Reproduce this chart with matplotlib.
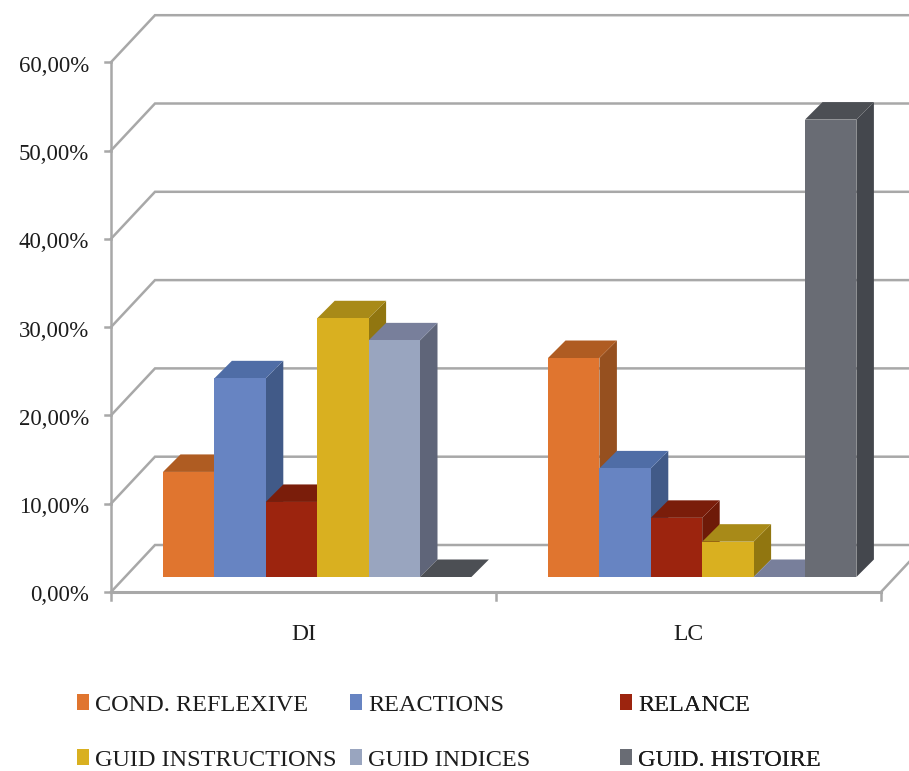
import matplotlib
matplotlib.use("Agg")
import matplotlib.pyplot as plt
from matplotlib.patches import Polygon, Patch

categories = ["DI", "LC"]
series = ["COND. REFLEXIVE", "REACTIONS", "RELANCE",
          "GUID INSTRUCTIONS", "GUID INDICES", "GUID. HISTOIRE"]
di_values = [11.9, 22.5, 8.5, 29.3, 26.8, 0.0]
lc_values = [24.8, 12.3, 6.7, 4.0, 0.0, 51.8]
y_ticks = [0, 10, 20, 30, 40, 50, 60]
y_labels = ["0,00%", "10,00%", "20,00%", "30,00%", "40,00%", "50,00%", "60,00%"]

front = ["#E0752F", "#6784C2", "#9C240E", "#D9B020", "#99A5BF", "#696C74"]
top = ["#AF5C22", "#4F6DA6", "#7A1D0A", "#A88A18", "#787F9B", "#4C4F54"]
side = ["#96501F", "#415A88", "#6E1A08", "#917610", "#5F6579", "#44474D"]

W, H = 909, 771
px_x = 385.0          # pixels per category
px_y = 8.83           # pixels per percent
x0, y0 = 111, 592     # front corner of the floor
GRID = "#a8a8a8"
TXT = "#1c1c1c"
FONT = "Liberation Serif"

fig = plt.figure(figsize=(W / 100, H / 100), dpi=100)
ax = fig.add_axes([0, 0, 1, 1])
ax.set_xlim(-x0 / px_x, (W - x0) / px_x)
ax.set_ylim(-(H - y0) / px_y, y0 / px_y)
ax.axis("off")

# depth of the box and of the bars, in data units
box_dx, box_dy = 44 / px_x, 47 / px_y
bar_dx, bar_dy = 17.5 / px_x, 17.5 / px_y
base = 15 / px_y
start = 52 / px_x
width = 51.4 / px_x

# walls and gridlines
for t in y_ticks:
    ax.plot([0, box_dx, 2 + box_dx], [t, t + box_dy, t + box_dy],
            color=GRID, lw=1.8, zorder=1, solid_joinstyle="miter")
    ax.plot([-6 / px_x, 0], [t, t], color=GRID, lw=1.8, zorder=1)
ax.plot([0, 0], [0, 60], color=GRID, lw=1.8, zorder=1)
ax.plot([0, 2], [0, 0], color=GRID, lw=2.2, zorder=1)
ax.plot([2, 2 + box_dx], [0, box_dy], color=GRID, lw=1.8, zorder=1)
for i in range(3):
    ax.plot([i, i], [0, -8 / px_y], color=GRID, lw=1.8, zorder=1)

# bars, left to right so each one covers the side of the previous one
z = 2
for c, values in enumerate([di_values, lc_values]):
    for s, v in enumerate(values):
        x = c + start + s * width
        y = base + v
        ax.add_patch(Polygon([(x + width, base), (x + width + bar_dx, base + bar_dy),
                              (x + width + bar_dx, y + bar_dy), (x + width, y)],
                             fc=side[s], ec="none", zorder=z))
        ax.add_patch(Polygon([(x, y), (x + bar_dx, y + bar_dy),
                              (x + width + bar_dx, y + bar_dy), (x + width, y)],
                             fc=top[s], ec="none", zorder=z))
        ax.bar(x, v, width, bottom=base, align="edge", color=front[s], zorder=z + 0.5)
        z += 1

for t, lab in zip(y_ticks, y_labels):
    ax.text(-22 / px_x, t - 0.45, lab, ha="right", va="center", fontsize=16.5,
            family=FONT, color=TXT)
for c, lab in enumerate(categories):
    ax.text(c + 0.5, -42 / px_y, lab, ha="center", va="center", fontsize=17,
            family=FONT, color=TXT)

# legend, three columns placed like the original
columns = [(0, 3, 77), (1, 4, 350), (2, 5, 620)]
for a, b, left in columns:
    handles = [Patch(fc=front[a], ec="none", label=series[a]),
               Patch(fc=front[b], ec="none", label=series[b])]
    leg = ax.legend(handles=handles, loc="upper left",
                    bbox_to_anchor=(left / W, 1 - 694 / H), bbox_transform=fig.transFigure,
                    frameon=False, borderpad=0, borderaxespad=0, handlelength=0.5,
                    handleheight=0.65, handletextpad=0.25, labelspacing=1.38,
                    prop={"family": FONT, "size": 17.5}, labelcolor=TXT)
    ax.add_artist(leg)

fig.savefig("out.png", dpi=100)
